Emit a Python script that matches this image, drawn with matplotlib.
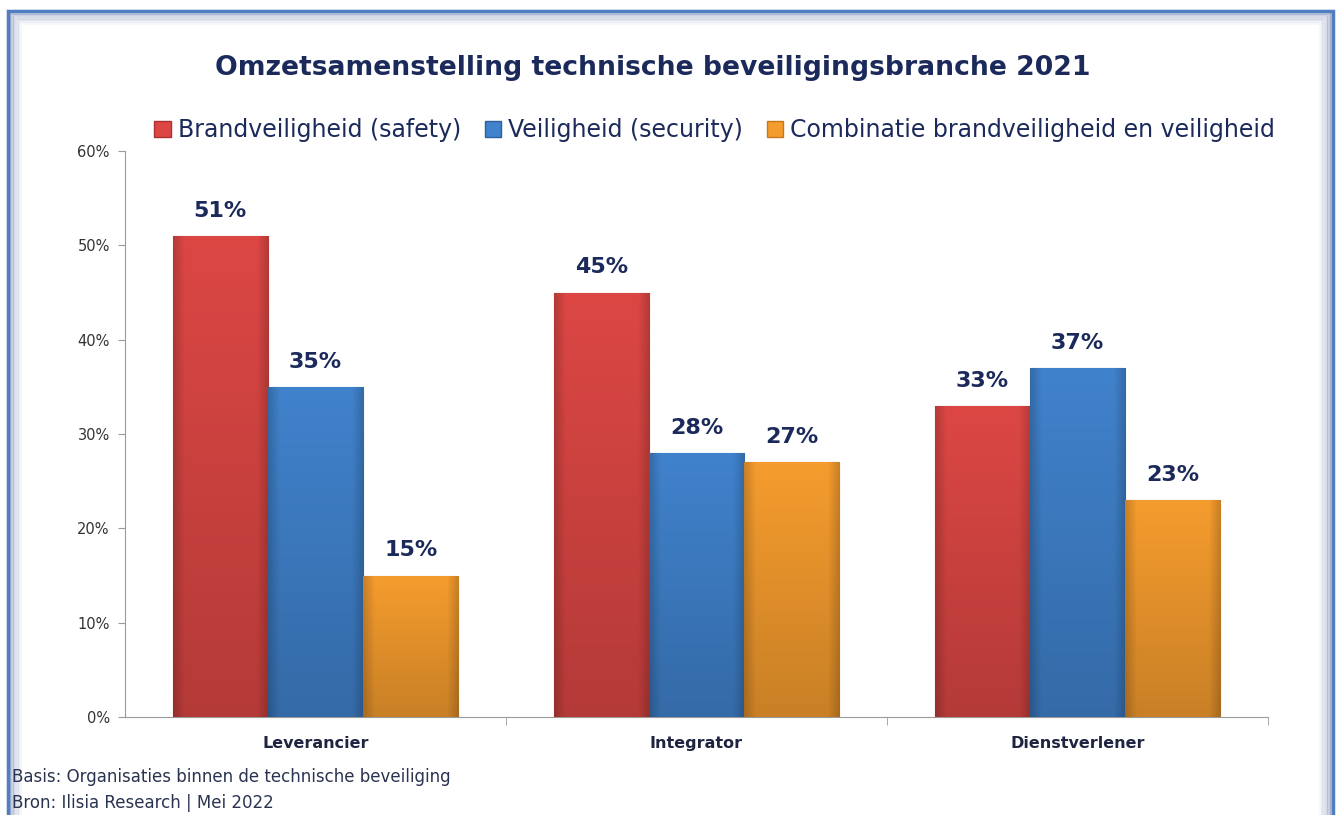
import matplotlib

matplotlib.use("Agg")
import matplotlib.pyplot as plt
import numpy as np
from matplotlib.patches import Rectangle
from matplotlib.colors import to_rgb

# ---- data ----------------------------------------------------------------
categories = ["Leverancier", "Integrator", "Dienstverlener"]
series_names = [
    "Brandveiligheid (safety)",
    "Veiligheid (security)",
    "Combinatie brandveiligheid en veiligheid",
]
brand = [51, 45, 33]
veilig = [35, 28, 37]
combi = [15, 27, 23]
yticks = [0, 10, 20, 30, 40, 50, 60]

# ---- palette -------------------------------------------------------------
NAVY = "#1B2A5A"
BAR_COLORS = ["#DC4744", "#4082CC", "#F59C2E"]
BAR_EDGES = ["#A93130", "#2D5E9E", "#C8771A"]
BORDER = "#4F7FC0"

fig = plt.figure(figsize=(13.41, 8.15), dpi=100)
fig.patch.set_facecolor("white")

# frame with soft inner shadow
for i, a in enumerate(np.linspace(0.45, 0.0, 10)):
    dx = i * 0.0012
    dy = i * 0.002
    fig.add_artist(Rectangle((0.006 + dx, -0.05), 0.988 - 2 * dx, 1.037 - dy,
                             transform=fig.transFigure, fill=False,
                             edgecolor="#6F7FAE", lw=1.6, alpha=a, zorder=-5))
fig.add_artist(Rectangle((0.006, -0.05), 0.988, 1.037, transform=fig.transFigure,
                         fill=False, edgecolor=BORDER, lw=2.5, zorder=-4))

ax = fig.add_axes([0.0932, 0.1202, 0.8523, 0.6945])
x = np.arange(len(categories))
w = 0.25
data = [brand, veilig, combi]


def bar_image(color, n=80):
    # soft bevel: darker toward the sides and toward the bottom
    base = np.array(to_rgb(color))
    u = np.linspace(0, 1, n)
    side = 1 - 0.18 * np.clip(1 - np.minimum(u, 1 - u) / 0.12, 0, 1)
    vert = np.linspace(1.0, 0.82, n)[:, None]
    shade = vert * side[None, :]
    return np.clip(base[None, None, :] * shade[:, :, None], 0, 1)


for k, vals in enumerate(data):
    bars = ax.bar(x + (k - 1) * w, vals, width=w, color=BAR_COLORS[k],
                  edgecolor=BAR_EDGES[k], lw=0.8, zorder=3)
    img = bar_image(BAR_COLORS[k])
    for b, v in zip(bars, vals):
        x0 = b.get_x()
        im = ax.imshow(img, extent=(x0, x0 + w, 0, v), aspect="auto",
                       origin="upper", zorder=3.5, interpolation="bilinear")
        im.set_clip_path(b)
        ax.text(x0 + w / 2, v + 1.6, f"{v}%", ha="center", va="bottom",
                fontsize=16, fontweight="bold", color=NAVY, zorder=5)

ax.set_xlim(-0.5, 2.5)
ax.set_ylim(0, 60)
ax.set_yticks(yticks)
ax.set_yticklabels([f"{t}%" for t in yticks])
ax.set_xticks(x)
ax.set_xticklabels(categories, fontsize=11.5, fontweight="bold", color="#1F2440")
ax.set_xticks([0.5, 1.5, 2.5], minor=True)
ax.tick_params(axis="x", which="major", length=0, pad=14)
ax.tick_params(axis="x", which="minor", length=6, color="#9A9A9A", direction="out")
ax.tick_params(axis="y", length=5, color="#9A9A9A", labelsize=10.5, labelcolor="#333333", pad=6)
for s in ("top", "right"):
    ax.spines[s].set_visible(False)
for s in ("left", "bottom"):
    ax.spines[s].set_color("#9A9A9A")
ax.set_facecolor("none")

# ---- title & legend ------------------------------------------------------
fig.text(0.487, 0.917, "Omzetsamenstelling technische beveiligingsbranche 2021",
         ha="center", va="center", fontsize=19.2, fontweight="bold", color=NAVY)

handles = [Rectangle((0, 0), 1, 1, facecolor=BAR_COLORS[k], edgecolor=BAR_EDGES[k])
           for k in range(3)]
fig.legend(handles, series_names, loc="center", bbox_to_anchor=(0.533, 0.84), ncol=3,
           frameon=False, fontsize=17, handlelength=0.7, handleheight=0.7,
           handletextpad=0.3, columnspacing=1.0, labelcolor=NAVY)

# ---- footer --------------------------------------------------------------
fig.text(0.009, 0.047, "Basis: Organisaties binnen de technische beveiliging",
         fontsize=12, color="#2A3350", va="center")
fig.text(0.009, 0.015, "Bron: Ilisia Research | Mei 2022",
         fontsize=12, color="#2A3350", va="center")

fig.savefig("out.png", dpi=100, facecolor="white")
